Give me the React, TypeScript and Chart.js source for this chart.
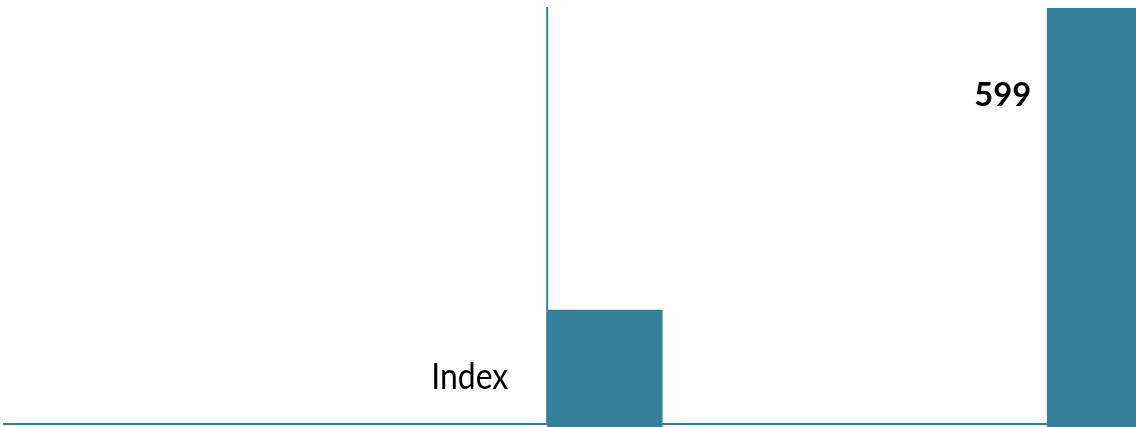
import React, { useEffect, useRef } from "react";
import { Chart, registerables } from "chart.js";

Chart.register(...registerables);

const categories = ["Index", "Total"];
const positions = [1, 2];
const values = [167, 599];
const valueLabels = ["", "599"];

const BAR_COLOR = "#34809a";

const annotatePlugin = {
  id: "annotate",
  afterDatasetsDraw(chart: any) {
    const { ctx, chartArea } = chart;
    const meta = chart.getDatasetMeta(0);
    const yScale = chart.scales.y;
    const base = yScale.getPixelForValue(0);
    const b0 = meta.data[0];
    const b1 = meta.data[1];
    const b0Left = b0.x - b0.width / 2;
    const b1Left = b1.x - b1.width / 2;
    ctx.save();
    ctx.fillStyle = BAR_COLOR;
    // vertical axis line at the left edge of the first bar
    ctx.fillRect(b0Left - 1, chartArea.top - 1, 2, base - 3 - chartArea.top + 1);
    // horizontal baseline
    ctx.fillRect(3, base - 4, b1Left - 3, 2);
    // texts
    ctx.fillStyle = "#000";
    ctx.textAlign = "right";
    ctx.textBaseline = "alphabetic";
    ctx.font = "normal 400 37px Lato";
    ctx.fillText(categories[0], b0Left - 39, base - 38, 77);
    ctx.font = "normal 700 33px Lato";
    ctx.fillText(valueLabels[1], b1Left - 16, b1.y + 98, 57);
    ctx.restore();
  },
};

export default function App() {
  const ref = useRef<HTMLCanvasElement>(null);
  useEffect(() => {
    if (!ref.current) return;
    const chart = new Chart(ref.current, {
      type: "bar",
      data: {
        datasets: [
          {
            data: positions.map((p, i) => ({ x: p, y: values[i] })),
            backgroundColor: BAR_COLOR,
            borderWidth: 0,
            barThickness: 115,
          } as any,
        ],
      },
      options: {
        responsive: false,
        animation: false,
        layout: { padding: { top: 8, left: 0, right: 0, bottom: 0 } },
        plugins: { legend: { display: false }, tooltip: { enabled: false } },
        scales: {
          x: { type: "linear", display: false, offset: false, min: -0.2094, max: 2.0626 },
          y: { display: false, min: 0, max: 599 },
        },
      },
      plugins: [annotatePlugin],
    });
    return () => chart.destroy();
  }, []);
  return (
    <div style={{ position: "fixed", left: 0, top: 0, width: 1136, height: 427 }}>
      <canvas ref={ref} width={1136} height={427} style={{ display: "block" }} />
    </div>
  );
}
